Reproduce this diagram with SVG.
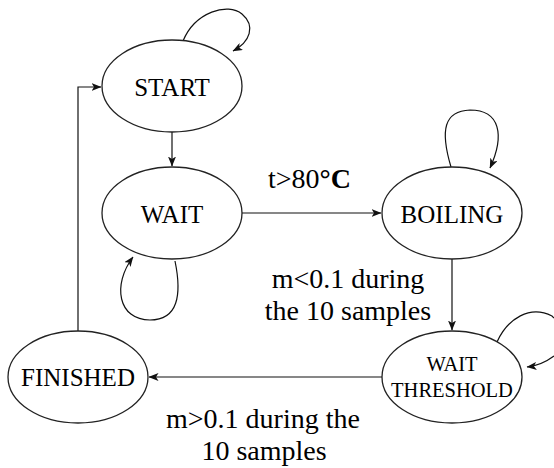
<svg xmlns="http://www.w3.org/2000/svg" width="554" height="468" viewBox="0 0 554 468">
<style>
text{font-family:"Liberation Serif",serif;fill:#000}
.nt{font-size:25px;text-anchor:middle}
.nts{font-size:20.5px;text-anchor:middle}
.lbl{font-size:28px}
.mid{text-anchor:middle}
ellipse{fill:#fff;stroke:#222;stroke-width:1.3}
.edges path,.edges line,.edges polyline{fill:none;stroke:#111;stroke-width:1.2}
</style>
<defs>
<marker id="arr" viewBox="0 0 10 8" refX="9.5" refY="4" markerWidth="10" markerHeight="8" markerUnits="userSpaceOnUse" orient="auto">
<path d="M0,0 L10,4 L0,8 L2.5,4 z" fill="#111"/>
</marker>
</defs>
<rect width="554" height="468" fill="#fff"/>
<g class="edges">
<line x1="172" y1="132" x2="172" y2="166" marker-end="url(#arr)"/>
<line x1="242" y1="213" x2="381" y2="213" marker-end="url(#arr)"/>
<line x1="452" y1="259" x2="452" y2="330" marker-end="url(#arr)"/>
<line x1="382" y1="377" x2="149" y2="377" marker-end="url(#arr)"/>
<polyline points="78,331 78,87 101,87" marker-end="url(#arr)"/>
<path d="M183,41 C195,12 228,2 242,14 C256,26 250,42 233,51" marker-end="url(#arr)"/>
<path d="M175,261 C182,295 178,320 150,320 C118,320 112,285 133,257" marker-end="url(#arr)"/>
<path d="M451,167 C440,130 444,111 470,110 C500,110 505,135 490,168" marker-end="url(#arr)"/>
<path d="M497,342 C508,318 530,305 552,316 L554,318 M554,356 C546,362 536,366 527,367" marker-end="url(#arr)"/>
</g>
<g id="start"><ellipse cx="172" cy="86" rx="70" ry="46"/><text class="nt" x="172" y="96" font-family="Liberation Serif">START</text></g>
<g id="wait"><ellipse cx="172" cy="213" rx="70" ry="46"/><text class="nt" x="172" y="223" font-family="Liberation Serif">WAIT</text></g>
<g id="boiling"><ellipse cx="452" cy="213" rx="70" ry="46"/><text class="nt" x="452" y="223" font-family="Liberation Serif">BOILING</text></g>
<g id="waitthreshold"><ellipse cx="452" cy="377" rx="70" ry="46"/><text class="nts" x="452" y="371" font-family="Liberation Serif">WAIT</text><text class="nts" x="452" y="397" font-family="Liberation Serif">THRESHOLD</text></g>
<g id="finished"><ellipse cx="78" cy="377" rx="70" ry="46"/><text class="nt" x="78" y="386" font-family="Liberation Serif">FINISHED</text></g>
<g id="labels">
<text class="lbl" x="268" y="188" font-family="Liberation Serif">t&gt;80<tspan font-weight="bold">°C</tspan></text>
<text class="lbl mid" x="348" y="288" font-family="Liberation Serif">m&lt;0.1 during</text>
<text class="lbl mid" x="348" y="320" font-family="Liberation Serif">the 10 samples</text>
<text class="lbl mid" x="263" y="428" font-family="Liberation Serif">m&gt;0.1 during the</text>
<text class="lbl mid" x="264" y="460" font-family="Liberation Serif">10 samples</text>
</g>
</svg>
